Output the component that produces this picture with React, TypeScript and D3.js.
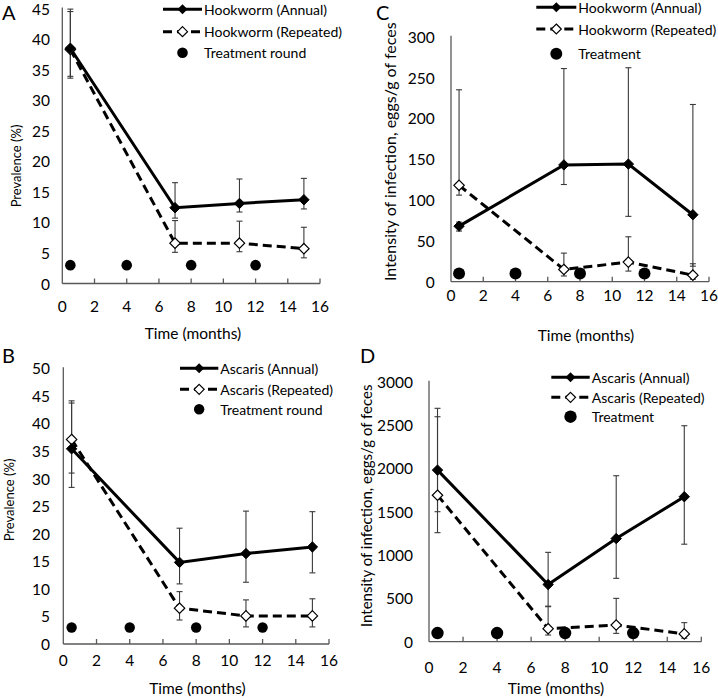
import React from "react";
import * as d3 from "d3";

const months = [0.5, 7, 11, 15];
const treatmentMonths = [0.5, 4, 8, 12];
const xTicks = [0, 2, 4, 6, 8, 10, 12, 14, 16];

// Panel A – hookworm prevalence
const hookPrevAnnual = [38.5, 12.4, 13.1, 13.7];
const hookPrevAnnualLo = [33.9, 10.7, 11.7, 12.2];
const hookPrevAnnualHi = [44.9, 16.5, 17.1, 17.2];
const hookPrevRepeated = [38.3, 6.6, 6.6, 5.7];
const hookPrevRepeatedLo = [33.6, 5.1, 5.2, 4.2];
const hookPrevRepeatedHi = [44.5, 10.3, 10.2, 9.2];
const prevTicksA = [0, 5, 10, 15, 20, 25, 30, 35, 40, 45];

// Panel B – ascaris prevalence
const ascPrevAnnual = [35.4, 14.8, 16.4, 17.6];
const ascPrevAnnualLo = [28.4, 10.9, 11.2, 12.9];
const ascPrevAnnualHi = [43.7, 21.0, 24.1, 24.0];
const ascPrevRepeated = [37.1, 6.5, 5.1, 5.1];
const ascPrevRepeatedLo = [31.0, 4.35, 3.1, 3.1];
const ascPrevRepeatedHi = [44.1, 9.5, 8.0, 8.2];
const prevTicksB = [0, 5, 10, 15, 20, 25, 30, 35, 40, 45, 50];

// Panel C – hookworm intensity
const hookIntAnnual = [68, 143, 144, 82];
const hookIntAnnualLo = [62, 119, 80, 19];
const hookIntAnnualHi = [73, 261, 262, 217];
const hookIntRepeated = [118, 15, 24, 8];
const hookIntRepeatedLo = [106, 7, 13, 3];
const hookIntRepeatedHi = [235, 35, 55, 22];
const intTicksC = [0, 50, 100, 150, 200, 250, 300];

// Panel D – ascaris intensity
const ascIntAnnual = [1980, 660, 1190, 1673];
const ascIntAnnualLo = [1258, 404, 731, 1125];
const ascIntAnnualHi = [2693, 1031, 1915, 2492];
const ascIntRepeated = [1690, 150, 192, 90];
const ascIntRepeatedLo = [1500, 77, 96, 40];
const ascIntRepeatedHi = [2596, 410, 500, 220];
const intTicksD = [0, 500, 1000, 1500, 2000, 2500, 3000];

const treatmentLevelPrev = 3;
const treatmentLevelC = 10;
const treatmentLevelD = 100;

const legendA = ["Hookworm (Annual)", "Hookworm (Repeated)", "Treatment round"];
const legendB = ["Ascaris (Annual)", "Ascaris (Repeated)", "Treatment round"];
const legendC = ["Hookworm (Annual)", "Hookworm (Repeated)", "Treatment"];
const legendD = ["Ascaris (Annual)", "Ascaris (Repeated)", "Treatment"];

const FONT = "Lato, 'Open Sans', sans-serif";
const AXIS = "#595959";
const ERR = "#3a3a3a";

type PanelProps = {
  letter: string;
  letterX: number;
  letterY: number;
  x0: number;
  x1: number;
  yBottom: number;
  yTop: number;
  yMax: number;
  yTicks: number[];
  yLabelRight: number;
  xLabelY: number;
  xTitleX: number;
  xTitleY: number;
  yTitle: string;
  yTitleX: number;
  yTitleY: number;
  yTitleSize: number;
  dotR: number;
  annual: number[];
  annualLo: number[];
  annualHi: number[];
  repeated: number[];
  repeatedLo: number[];
  repeatedHi: number[];
  treatment: number;
  legend: string[];
  legX0: number;
  legX1: number;
  legRows: number[];
};

function diamond(cx: number, cy: number, r: number) {
  return `M${cx},${cy - r}L${cx + r},${cy}L${cx},${cy + r}L${cx - r},${cy}Z`;
}

function Panel(p: PanelProps) {
  const x = d3.scaleLinear().domain([0, 16]).range([p.x0, p.x1]);
  const y = d3.scaleLinear().domain([0, p.yMax]).range([p.yBottom, p.yTop]);
  const line = d3
    .line<number>()
    .x((_, i) => x(months[i]))
    .y((d) => y(d));
  const cap = 3;
  const errs = (lo: number[], hi: number[], key: string) =>
    months.map((m, i) => (
      <g key={key + i} stroke={ERR} strokeWidth={1.1}>
        <line x1={x(m)} x2={x(m)} y1={y(lo[i])} y2={y(hi[i])} />
        <line x1={x(m) - cap} x2={x(m) + cap} y1={y(lo[i])} y2={y(lo[i])} />
        <line x1={x(m) - cap} x2={x(m) + cap} y1={y(hi[i])} y2={y(hi[i])} />
      </g>
    ));
  const legMid = (p.legX0 + p.legX1) / 2;
  const textX = p.legX1 + 2;
  return (
    <g fontFamily={FONT} fill="#000">
      <text x={p.letterX} y={p.letterY} fontSize={20} dominantBaseline="central">
        {p.letter}
      </text>
      {/* axes */}
      <line x1={p.x0} x2={p.x0} y1={p.yTop - 1} y2={p.yBottom} stroke={AXIS} strokeWidth={1.3} />
      <line x1={p.x0} x2={p.x1} y1={p.yBottom} y2={p.yBottom} stroke={AXIS} strokeWidth={1.3} />
      {xTicks.map((t) => (
        <g key={"xt" + t}>
          {t > 0 && (
            <line x1={x(t)} x2={x(t)} y1={p.yBottom} y2={p.yBottom - 5} stroke={AXIS} strokeWidth={1.3} />
          )}
          <text x={x(t)} y={p.xLabelY} fontSize={15.5} textAnchor="middle" dominantBaseline="central">
            {t}
          </text>
        </g>
      ))}
      {p.yTicks.map((t) => (
        <text key={"yt" + t} x={p.yLabelRight} y={y(t)} fontSize={15.5} textAnchor="end" dominantBaseline="central">
          {t}
        </text>
      ))}
      <text x={p.xTitleX} y={p.xTitleY} fontSize={15.5} textAnchor="middle" dominantBaseline="central">
        Time (months)
      </text>
      <text
        transform={`translate(${p.yTitleX},${p.yTitleY}) rotate(-90)`}
        fontSize={p.yTitleSize}
        textAnchor="middle"
        dominantBaseline="central"
      >
        {p.yTitle}
      </text>
      {/* treatment rounds */}
      {treatmentMonths.map((m) => (
        <circle key={"tr" + m} cx={x(m)} cy={y(p.treatment)} r={p.dotR} fill="#000" />
      ))}
      {errs(p.annualLo, p.annualHi, "ea")}
      {errs(p.repeatedLo, p.repeatedHi, "er")}
      <path d={line(p.repeated) || ""} fill="none" stroke="#000" strokeWidth={3} strokeDasharray="9,5" />
      <path d={line(p.annual) || ""} fill="none" stroke="#000" strokeWidth={3} />
      {p.repeated.map((v, i) => (
        <path key={"mr" + i} d={diamond(x(months[i]), y(v), 5.2)} fill="#fff" stroke="#000" strokeWidth={1.2} />
      ))}
      {p.annual.map((v, i) => (
        <path key={"ma" + i} d={diamond(x(months[i]), y(v), 5.2)} fill="#000" stroke="#000" strokeWidth={1} />
      ))}
      {/* legend */}
      <line x1={p.legX0} x2={p.legX1} y1={p.legRows[0]} y2={p.legRows[0]} stroke="#000" strokeWidth={3} />
      <path d={diamond(legMid, p.legRows[0], 5)} fill="#000" />
      <line
        x1={p.legX0}
        x2={p.legX1}
        y1={p.legRows[1]}
        y2={p.legRows[1]}
        stroke="#000"
        strokeWidth={3}
        strokeDasharray="9,5"
      />
      <path d={diamond(legMid, p.legRows[1], 5)} fill="#fff" stroke="#000" strokeWidth={1.2} />
      <circle cx={legMid} cy={p.legRows[2]} r={p.dotR} fill="#000" />
      {p.legend.map((t, i) => (
        <text key={"lg" + i} x={textX} y={p.legRows[i]} fontSize={14} dominantBaseline="central">
          {t}
        </text>
      ))}
    </g>
  );
}

export default function App() {
  return (
    <svg width={718} height={699} style={{ display: "block", position: "absolute", left: 0, top: 0 }}>
      <rect width={718} height={699} fill="#fff" />
      <Panel
        letter="A"
        letterX={2}
        letterY={12}
        x0={62.3}
        x1={320}
        yBottom={283.5}
        yTop={8.5}
        yMax={45}
        yTicks={prevTicksA}
        yLabelRight={50}
        xLabelY={306}
        xTitleX={193}
        xTitleY={333}
        yTitle="Prevalence (%)"
        yTitleX={16}
        yTitleY={166}
        yTitleSize={13}
        dotR={5.3}
        annual={hookPrevAnnual}
        annualLo={hookPrevAnnualLo}
        annualHi={hookPrevAnnualHi}
        repeated={hookPrevRepeated}
        repeatedLo={hookPrevRepeatedLo}
        repeatedHi={hookPrevRepeatedHi}
        treatment={treatmentLevelPrev}
        legend={legendA}
        legX0={163}
        legX1={202}
        legRows={[9.3, 31.7, 52.7]}
      />
      <Panel
        letter="C"
        letterX={376}
        letterY={12}
        x0={451}
        x1={709}
        yBottom={281.7}
        yTop={36.7}
        yMax={300}
        yTicks={intTicksC}
        yLabelRight={434.7}
        xLabelY={295}
        xTitleX={586}
        xTitleY={335}
        yTitle="Intensity of infection, eggs/g of feces"
        yTitleX={389.7}
        yTitleY={151.7}
        yTitleSize={16}
        dotR={6}
        annual={hookIntAnnual}
        annualLo={hookIntAnnualLo}
        annualHi={hookIntAnnualHi}
        repeated={hookIntRepeated}
        repeatedLo={hookIntRepeatedLo}
        repeatedHi={hookIntRepeatedHi}
        treatment={treatmentLevelC}
        legend={legendC}
        legX0={536.3}
        legX1={576.3}
        legRows={[7.3, 29, 53.7]}
      />
      <Panel
        letter="B"
        letterX={2}
        letterY={355}
        x0={63.3}
        x1={329}
        yBottom={644}
        yTop={368.3}
        yMax={50}
        yTicks={prevTicksB}
        yLabelRight={50}
        xLabelY={660}
        xTitleX={197.5}
        xTitleY={688.3}
        yTitle="Prevalence (%)"
        yTitleX={9}
        yTitleY={500}
        yTitleSize={13}
        dotR={5.2}
        annual={ascPrevAnnual}
        annualLo={ascPrevAnnualLo}
        annualHi={ascPrevAnnualHi}
        repeated={ascPrevRepeated}
        repeatedLo={ascPrevRepeatedLo}
        repeatedHi={ascPrevRepeatedHi}
        treatment={treatmentLevelPrev}
        legend={legendB}
        legX0={180}
        legX1={218.3}
        legRows={[368.3, 389.3, 409.3]}
      />
      <Panel
        letter="D"
        letterX={360}
        letterY={355}
        x0={429}
        x1={701.3}
        yBottom={641.7}
        yTop={381.7}
        yMax={3000}
        yTicks={intTicksD}
        yLabelRight={413}
        xLabelY={666.7}
        xTitleX={556}
        xTitleY={688.3}
        yTitle="Intensity of infection, eggs/g of feces"
        yTitleX={366.3}
        yTitleY={505.8}
        yTitleSize={15}
        dotR={6.2}
        annual={ascIntAnnual}
        annualLo={ascIntAnnualLo}
        annualHi={ascIntAnnualHi}
        repeated={ascIntRepeated}
        repeatedLo={ascIntRepeatedLo}
        repeatedHi={ascIntRepeatedHi}
        treatment={treatmentLevelD}
        legend={legendD}
        legX0={551.3}
        legX1={589.7}
        legRows={[377.3, 397.3, 416.7]}
      />
    </svg>
  );
}
